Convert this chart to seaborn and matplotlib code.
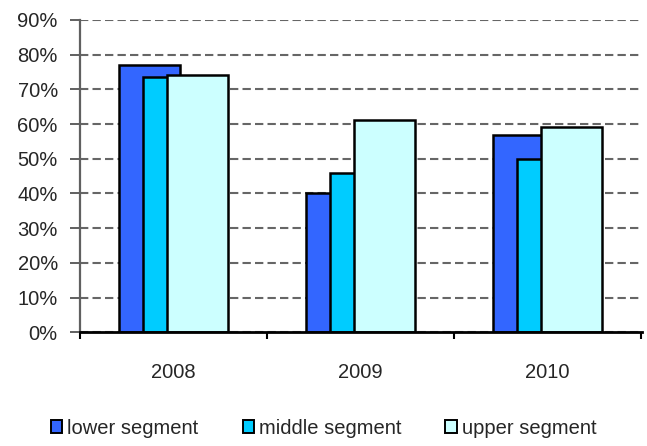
import matplotlib
matplotlib.use("Agg")
import matplotlib.pyplot as plt
import seaborn as sns
import numpy as np
from matplotlib.patches import Patch
from matplotlib.ticker import FixedLocator

years = ["2008", "2009", "2010"]
series = ["lower segment", "middle segment", "upper segment"]
lower = [0.77, 0.40, 0.57]
middle = [0.735, 0.46, 0.50]
upper = [0.742, 0.612, 0.593]
colors = ["#3366FF", "#00CCFF", "#CCFFFF"]
yticks = [0.0, 0.1, 0.2, 0.3, 0.4, 0.5, 0.6, 0.7, 0.8, 0.9]
ytick_labels = ["0%", "10%", "20%", "30%", "40%", "50%", "60%", "70%", "80%", "90%"]

sns.set_theme(style="white")
plt.rcParams['font.family'] = ['Liberation Sans', 'DejaVu Sans']

fig = plt.figure(figsize=(6.47, 4.46), dpi=100)
ax = fig.add_axes([80/647, 113.7/446, (642-80)/647, (332.3-20)/446])

offsets = [-0.128, 0.0, 0.128]
bar_w = 0.326
base = np.arange(len(years))
for vals, off, col in zip([lower, middle, upper], offsets, colors):
    sns.barplot(x=base + off, y=vals, native_scale=True, width=bar_w,
                color=col, saturation=1, edgecolor="black", linewidth=1.8,
                ax=ax, zorder=3)

ax.set_xlim(-0.5, 2.5 + 1/187)
ax.set_ylim(0, 0.9)
ax.set_yticks(yticks)
ax.set_yticklabels(ytick_labels, fontsize=14.5)
ax.yaxis.grid(True, color="#666666", linestyle=(0, (4, 2)), linewidth=1.5, zorder=0)
ax.set_axisbelow(True)

ax.xaxis.set_major_locator(FixedLocator(base))
ax.set_xticklabels(years, fontsize=14.5)
ax.xaxis.set_minor_locator(FixedLocator([-0.5, 0.5, 1.5, 2.5]))
ax.tick_params(axis="x", which="major", length=0, pad=22)
ax.tick_params(axis="x", which="minor", length=5, width=1.5, color="black", direction="out", bottom=True)
ax.tick_params(axis="y", length=7, width=1.4, color="#606060", direction="out", left=True, pad=9)
ax.set_xlabel("")
ax.set_ylabel("")

for s in ["top", "right"]:
    ax.spines[s].set_visible(False)
ax.spines["left"].set_color("#606060")
ax.spines["left"].set_linewidth(1.6)
ax.spines["bottom"].set_color("black")
ax.spines["bottom"].set_linewidth(2.0)
ax.spines["bottom"].set_zorder(4)

handles = [Patch(facecolor=c, edgecolor="black", linewidth=1.4) for c in colors]
fig.legend(handles, series, loc="lower center", bbox_to_anchor=(0.5, -0.022), ncol=3,
           frameon=False, fontsize=14.5, handlelength=0.55, handleheight=0.55,
           handletextpad=0.25, columnspacing=2.2)

fig.savefig("out.png", dpi=100)
